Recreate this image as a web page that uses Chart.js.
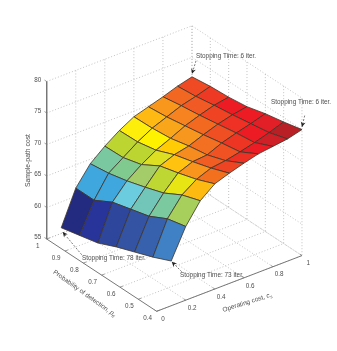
<!DOCTYPE html>
<html>
<head>
<meta charset="utf-8">
<title>Sample-path cost surface</title>
<script src="https://cdn.jsdelivr.net/npm/chart.js"></script>
<style>
	html, body { margin:0; padding:0; background:#fff; }
	canvas { display:block; }
</style>
</head>
<body>
<canvas id="surface" width="337" height="351"></canvas>
<script>
// operating cost c_s along one side, probability of detection p_d along the other
const costValues = [0.1, 0.2, 0.3, 0.4, 0.5, 0.6, 0.7, 0.8, 0.9, 1];
const detectionValues = [1, 0.9, 0.8, 0.7, 0.6, 0.5, 0.4];

// sample-path cost, one row per operating cost
const costRow01 = [55.9, 56.6, 57.3, 58.6, 59.7, 60.8, 62.1];
const costRow02 = [61.3, 61.3, 62.9, 63.7, 64.5, 66.0, 66.7];
const costRow03 = [64.3, 64.7, 65.4, 66.3, 67.3, 68.9, 69.9];
const costRow04 = [66.2, 66.3, 67.1, 68.8, 69.6, 70.5, 71.7];
const costRow05 = [67.8, 67.9, 68.5, 69.7, 70.5, 71.4, 72.5];
const costRow06 = [69.1, 69.2, 69.5, 70.2, 70.7, 71.7, 73.2];
const costRow07 = [69.8, 70.1, 70.6, 71.1, 71.7, 72.2, 73.8];
const costRow08 = [70.5, 71.0, 71.4, 71.9, 72.4, 72.8, 74.1];
const costRow09 = [71.3, 71.6, 72.1, 72.5, 73.0, 73.5, 74.4];
const costRow10 = [71.9, 72.3, 72.5, 72.9, 73.7, 74.3, 75.0];
const costRows = [costRow01, costRow02, costRow03, costRow04, costRow05,
	costRow06, costRow07, costRow08, costRow09, costRow10];

const costTicks = [0, 0.2, 0.4, 0.6, 0.8, 1];
const costGrid = [0.2, 0.4, 0.6, 0.8, 1];
const detectionTicks = [1, 0.9, 0.8, 0.7, 0.6, 0.5, 0.4];
const levelTicks = [55, 60, 65, 70, 75, 80];

// patch colours as they show in the picture
const patchColours = [
	["#232b80", "#283499", "#2e469c", "#3453a2", "#3761ad", "#3f81c4"],
	["#3fa7dd", "#3fa7dd", "#6cccdf", "#72c6b9", "#7bc99f", "#a7cf5c"],
	["#79c89f", "#80ca90", "#a4cd6a", "#bfd733", "#e7e614", "#fdbb12"],
	["#bdd531", "#bdd531", "#dcdf22", "#ffc20e", "#f9951d", "#f3701f"],
	["#fdee0c", "#fff200", "#ffcb05", "#f68c1f", "#f15d22", "#ef4423"],
	["#feb913", "#faa61a", "#f7971d", "#f36f21", "#f05224", "#ed2f24"],
	["#f8971c", "#f68320", "#f3691f", "#f04e23", "#ee3524", "#ed1c24"],
	["#f26722", "#f15a24", "#ef4323", "#ee3124", "#ed1c24", "#cf2027"],
	["#f04a25", "#ee3a24", "#ed1c24", "#ed1c24", "#e21e26", "#b92025"]
];

const stoppingText = ["Stopping Time: 6 iter.", "Stopping Time: 6 iter.", "Stopping Time: 78 iter.", "Stopping Time: 73 iter."];

const gridColour = "#b4b4b4";
const axisColour = "#777777";
const textColour = "#4d4d4d";
const edgeColour = "#3c3428";
const FONT = "Liberation Sans, Arial, sans-serif";

// fixed oblique view: axes corners measured on the picture
function project( c, p, z ) {
	return {
		x: 46.7 + 183.3*(1-p) + 145.3*c,
		y: 239 + 120.5*(1-p) - 55.7*c - 6.3*(z-55)
	};
}

function lineSet( points, colour, width, dash ) {
	return {
		data: points,
		showLine: true,
		fill: false,
		borderColor: colour,
		borderWidth: width,
		borderDash: dash || [],
		pointRadius: 0,
		tension: 0
	};
}

let datasets = [];

// dotted grid on both walls and the floor
for( let z of levelTicks ) {
	datasets.push( lineSet( [project(0,1,z), project(1,1,z), project(1,0.4,z)], gridColour, 0.8, [1,2] ) );
}
for( let c of costGrid ) {
	datasets.push( lineSet( [project(c,0.4,55), project(c,1,55), project(c,1,80)], gridColour, 0.8, [1,2] ) );
}
for( let p of detectionTicks ) {
	datasets.push( lineSet( [project(0,p,55), project(1,p,55), project(1,p,80)], gridColour, 0.8, [1,2] ) );
}

// box axes
datasets.push( lineSet( [project(0,1,80), project(0,1,55), project(0,0.4,55), project(1,0.4,55)], axisColour, 1 ) );
for( let z of levelTicks ) {
	datasets.push( lineSet( [project(0,1,z), project(0,1.012,z)], axisColour, 0.7 ) );
}
for( let p of detectionTicks ) {
	datasets.push( lineSet( [project(0,p,55), project(0.02,p,55)], axisColour, 0.7 ) );
}
for( let c of costTicks ) {
	datasets.push( lineSet( [project(c,0.4,55), project(c,0.412,55)], axisColour, 0.7 ) );
}

// surface patches, back corner first
for( let i = costValues.length-2; i >= 0; i-- ) {
	for( let j = 0; j < detectionValues.length-1; j++ ) {
		let corners = [
			project( costValues[i], detectionValues[j], costRows[i][j] ),
			project( costValues[i+1], detectionValues[j], costRows[i+1][j] ),
			project( costValues[i+1], detectionValues[j+1], costRows[i+1][j+1] ),
			project( costValues[i], detectionValues[j+1], costRows[i][j+1] )
		];
		corners.push( corners[0] );
		let patch = lineSet( corners, edgeColour, 0.8 );
		patch.fill = "shape";
		patch.backgroundColor = patchColours[i][j];
		datasets.push( patch );
	}
}

// dashed leaders of the stopping time notes, offsets in px from a surface corner
function leader( c, p, z, tailDx, tailDy, tipDx, tipDy ) {
	let at = project( c, p, z );
	let tail = { x: at.x+tailDx, y: at.y+tailDy };
	let tip = { x: at.x+tipDx, y: at.y+tipDy };
	datasets.push( lineSet( [tail, tip], "#444444", 0.7, [2,1.5] ) );
	return [tail, tip];
}
const leaders = [
	leader( 1, 1, costRow10[0], 4, -16, 0, -3 ),
	leader( 1, 0.4, costRow10[6], 2.7, -14, 0, -2.6 ),
	leader( 0.1, 1, costRow01[0], 20.5, 27, 1.5, 4.3 ),
	leader( 0.1, 0.4, costRow01[6], 10.5, 10.7, 0.5, 0.7 )
];

// later datasets should paint on top
datasets.forEach( (d, i) => { d.order = datasets.length - i; } );

function put( ctx, text, x, y, size, angle, align ) {
	ctx.save();
	ctx.translate( x, y );
	ctx.rotate( (angle||0) * Math.PI / 180 );
	ctx.font = size + "px " + FONT;
	ctx.fillStyle = textColour;
	ctx.textAlign = align || "center";
	ctx.textBaseline = "middle";
	ctx.fillText( text, 0, 0 );
	ctx.restore();
}

// "text, s" with a small italic subscript, centred on x,y
function putSub( ctx, text, symbol, sub, x, y, size, angle ) {
	ctx.save();
	ctx.translate( x, y );
	ctx.rotate( angle * Math.PI / 180 );
	ctx.textBaseline = "middle";
	ctx.textAlign = "left";
	ctx.fillStyle = textColour;
	ctx.font = size + "px " + FONT;
	let w1 = ctx.measureText( text ).width;
	ctx.font = "italic " + size + "px " + FONT;
	let w2 = ctx.measureText( symbol ).width;
	ctx.font = "italic " + (size-2) + "px " + FONT;
	let w3 = ctx.measureText( sub ).width;
	let left = -(w1+w2+w3)/2;
	ctx.font = size + "px " + FONT;
	ctx.fillText( text, left, 0 );
	ctx.font = "italic " + size + "px " + FONT;
	ctx.fillText( symbol, left+w1, 0 );
	ctx.font = "italic " + (size-2) + "px " + FONT;
	ctx.fillText( sub, left+w1+w2, 2 );
	ctx.restore();
}

const annotations = {
	id: "annotations",
	afterDraw( chart ) {
		let ctx = chart.ctx;
		let sx = v => chart.scales.x.getPixelForValue( v );
		let sy = v => chart.scales.y.getPixelForValue( v );
		for( let z of levelTicks ) {
			let t = project( 0, 1, z );
			put( ctx, String(z), sx(t.x)-9, sy(t.y)-1.5, 6.3 );
		}
		for( let p of detectionTicks ) {
			let t = project( 0, p, 55 );
			put( ctx, String(p), sx(t.x)-9, sy(t.y)+6.8, 6.3 );
		}
		for( let c of costTicks ) {
			let t = project( c, 0.4, 55 );
			put( ctx, String(c), sx(t.x)+6.3, sy(t.y)+8, 6.3 );
		}
		put( ctx, "Sample-path cost", 28.5, 160.5, 6.8, -90 );
		putSub( ctx, "Probability of detection, ", "p", "d", 84.5, 293.5, 6.5, 35.5 );
		putSub( ctx, "Operating cost, ", "c", "s", 247.3, 302.5, 6.5, -17.6 );

		put( ctx, stoppingText[0], 196, 56, 6.4, 0, "left" );
		put( ctx, stoppingText[1], 271, 102, 6.4, 0, "left" );
		put( ctx, stoppingText[2], 82, 258.5, 6.4, 0, "left" );
		put( ctx, stoppingText[3], 180, 275, 6.4, 0, "left" );

		// arrow heads
		for( let l of leaders ) {
			let tx = sx(l[1].x), ty = sy(l[1].y);
			let a = Math.atan2( ty-sy(l[0].y), tx-sx(l[0].x) );
			ctx.save();
			ctx.translate( tx, ty );
			ctx.rotate( a );
			ctx.fillStyle = "#222222";
			ctx.beginPath();
			ctx.moveTo( 0, 0 );
			ctx.lineTo( -5, -2.4 );
			ctx.lineTo( -3.6, 0 );
			ctx.lineTo( -5, 2.4 );
			ctx.closePath();
			ctx.fill();
			ctx.restore();
		}
	}
};

new Chart( document.getElementById("surface"), {
	type: "scatter",
	data: { datasets: datasets },
	options: {
		responsive: false,
		animation: false,
		layout: { padding: 0 },
		plugins: { legend: { display: false }, tooltip: { enabled: false } },
		scales: {
			x: { type: "linear", min: 0, max: 337, display: false },
			y: { type: "linear", min: 0, max: 351, reverse: true, display: false }
		}
	},
	plugins: [annotations]
} );
</script>
</body>
</html>
